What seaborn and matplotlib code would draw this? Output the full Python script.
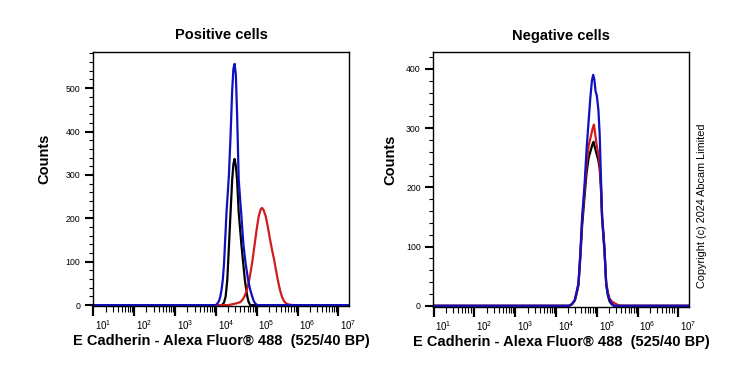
#!/usr/bin/env python3
"""
Flow cytometry histograms - E Cadherin, positive vs negative cells
"""
import numpy as np
import pandas as pd
import matplotlib
matplotlib.use("Agg")
import matplotlib.pyplot as plt
import matplotlib.transforms as mtransforms
from matplotlib.ticker import FixedLocator, MultipleLocator
import seaborn as sns

# ---- data (x as log10 intensity, y as counts) ----
pos_blue_log = [1.0, 4.00, 4.04, 4.08, 4.11, 4.14, 4.17, 4.20, 4.22, 4.24, 4.26, 4.29, 4.32,
                4.36, 4.40, 4.43, 4.46, 4.49, 4.52, 4.56, 4.59, 4.62, 4.65, 4.68, 4.73,
                4.79, 4.84, 4.89, 4.93, 4.97, 5.02, 7.26]
pos_blue_cnt = [0, 0, 4, 10, 20, 36, 58, 95, 135, 172, 213, 255, 300,
                390, 495, 545, 556, 530, 440, 289, 250, 213, 172, 135, 95,
                58, 36, 20, 9, 3, 0, 0]

pos_black_log = [1.0, 4.15, 4.20, 4.24, 4.28, 4.32, 4.36, 4.40, 4.43, 4.46, 4.49, 4.52,
                 4.56, 4.63, 4.71, 4.77, 4.80, 4.84, 7.26]
pos_black_cnt = [0, 0, 6, 20, 58, 135, 213, 289, 325, 337, 320, 289,
                 213, 135, 58, 20, 8, 0, 0]

pos_red_log = [1.0, 4.30, 4.40, 4.50, 4.60, 4.65, 4.70, 4.75, 4.80, 4.85, 4.90, 4.95,
               5.00, 5.05, 5.10, 5.13, 5.17, 5.22, 5.27, 5.32, 5.37, 5.42, 5.47, 5.52,
               5.57, 5.62, 5.67, 5.72, 5.80, 5.90, 7.26]
pos_red_cnt = [0, 0, 2, 4, 7, 12, 20, 32, 50, 75, 105, 140,
               175, 205, 221, 224, 219, 205, 182, 155, 130, 108, 82, 57,
               35, 19, 9, 4, 1, 0, 0]

neg_blue_log = [1.0, 4.30, 4.35, 4.40, 4.46, 4.50, 4.55, 4.60, 4.64, 4.70, 4.75, 4.79,
                4.84, 4.88, 4.91, 4.94, 4.97, 5.00, 5.04, 5.07, 5.10, 5.13, 5.16, 5.19,
                5.21, 5.23, 5.27, 5.31, 5.36, 5.42, 7.26]
neg_blue_cnt = [0, 0, 1, 4, 10, 22, 38, 94, 150, 205, 265, 303,
                350, 380, 390, 382, 362, 355, 330, 290, 220, 150, 125, 94,
                65, 38, 20, 10, 4, 0, 0]

neg_red_log = [1.0, 4.32, 4.40, 4.46, 4.50, 4.55, 4.60, 4.64, 4.70, 4.75, 4.80, 4.85,
               4.90, 4.93, 4.96, 5.00, 5.04, 5.07, 5.10, 5.13, 5.16, 5.19, 5.21, 5.23,
               5.27, 5.31, 5.36, 5.42, 5.50, 5.58, 7.26]
neg_red_cnt = [0, 0, 3, 9, 20, 36, 90, 145, 195, 240, 270, 285,
               300, 306, 290, 270, 255, 240, 205, 150, 122, 95, 66, 40,
               23, 13, 8, 5, 2, 0, 0]

neg_black_log = [1.0, 4.32, 4.40, 4.46, 4.50, 4.55, 4.60, 4.64, 4.70, 4.75, 4.80, 4.85,
                 4.89, 4.92, 4.95, 5.00, 5.04, 5.07, 5.10, 5.13, 5.16, 5.19, 5.21, 5.23,
                 5.27, 5.31, 5.36, 5.42, 7.26]
neg_black_cnt = [0, 0, 3, 9, 19, 35, 85, 135, 185, 225, 250, 262,
                 272, 277, 268, 255, 245, 232, 200, 148, 118, 90, 62, 36,
                 18, 8, 3, 0, 0]

decades = [1, 2, 3, 4, 5, 6, 7]
titles = ["Positive cells", "Negative cells"]
xlabel = "E Cadherin - Alexa Fluor\u00ae 488  (525/40 BP)"

BLUE = "#1010c0"
RED = "#d01c1c"
BLACK = "#000000"

sns.set_style("ticks")
plt.rcParams["font.family"] = ["Liberation Sans", "DejaVu Sans"]
plt.rcParams["mathtext.fontset"] = "custom"
plt.rcParams["mathtext.rm"] = "Liberation Sans"
plt.rcParams["mathtext.it"] = "Liberation Sans"
for key in ["text.color", "axes.labelcolor", "xtick.color", "ytick.color"]:
    plt.rcParams[key] = "black"


def make_df(logs, cnts):
    return pd.DataFrame({"x": 10 ** np.array(logs, dtype=float), "y": cnts})


def style_axis(ax, ymax, title, ylab_x):
    ax.set_xscale("log")
    ax.set_xlim(10 ** 0.99, 10 ** 7.26)
    ax.set_ylim(-2, ymax)
    ax.xaxis.set_major_locator(FixedLocator([10.0 ** d for d in decades]))
    ax.xaxis.set_minor_locator(FixedLocator(
        [m * 10.0 ** d for d in decades[:-1] for m in range(2, 10)]))
    ax.set_xticklabels([f"$10^{{{d}}}$" for d in decades])
    ax.yaxis.set_major_locator(MultipleLocator(100))
    ax.yaxis.set_minor_locator(MultipleLocator(20))
    ax.tick_params(axis="x", which="major", direction="out", length=7, width=1.6,
                   labelsize=7, pad=2)
    ax.tick_params(axis="x", which="minor", direction="out", length=4, width=0.8)
    ax.tick_params(axis="y", which="major", direction="out", length=6, width=1.5,
                   labelsize=6.3, pad=3)
    ax.tick_params(axis="y", which="minor", direction="out", length=3, width=0.8)
    # tick labels sit a little to the right of their tick, as in the original
    offset = mtransforms.ScaledTranslation(0.1, 0, ax.figure.dpi_scale_trans)
    for lab in ax.get_xticklabels():
        lab.set_transform(lab.get_transform() + offset)
    for sp in ax.spines.values():
        sp.set_visible(True)
        sp.set_linewidth(1.0)
        sp.set_color("black")
    ax.set_title(title, fontsize=10.5, fontweight="bold", pad=9)
    ax.set_xlabel(xlabel, fontsize=10.5, fontweight="bold", labelpad=1)
    ax.set_ylabel("Counts", fontsize=10.5, fontweight="bold")
    ax.yaxis.set_label_coords(ylab_x, 0.578)


fig = plt.figure(figsize=(7.39, 3.70), dpi=100)
ax1 = fig.add_axes([0.1258, 0.1730, 0.3464, 0.6873])
ax2 = fig.add_axes([0.5863, 0.1703, 0.3460, 0.6883])

panels = [
    (ax1, [(pos_black_log, pos_black_cnt, BLACK), (pos_red_log, pos_red_cnt, RED),
           (pos_blue_log, pos_blue_cnt, BLUE)], 584, titles[0], -0.164),
    (ax2, [(neg_black_log, neg_black_cnt, BLACK), (neg_red_log, neg_red_cnt, RED),
           (neg_blue_log, neg_blue_cnt, BLUE)], 428, titles[1], -0.142),
]

for ax, curves, ymax, title, ylab_x in panels:
    for logs, cnts, col in curves:
        sns.lineplot(data=make_df(logs, cnts), x="x", y="y", ax=ax, color=col,
                     linewidth=1.6, estimator=None, sort=False)
    style_axis(ax, ymax, title, ylab_x)

fig.text(0.950, 0.443, "Copyright (c) 2024 Abcam Limited", rotation=90,
         fontsize=7.8, ha="center", va="center")

fig.savefig("out.png", dpi=100)
